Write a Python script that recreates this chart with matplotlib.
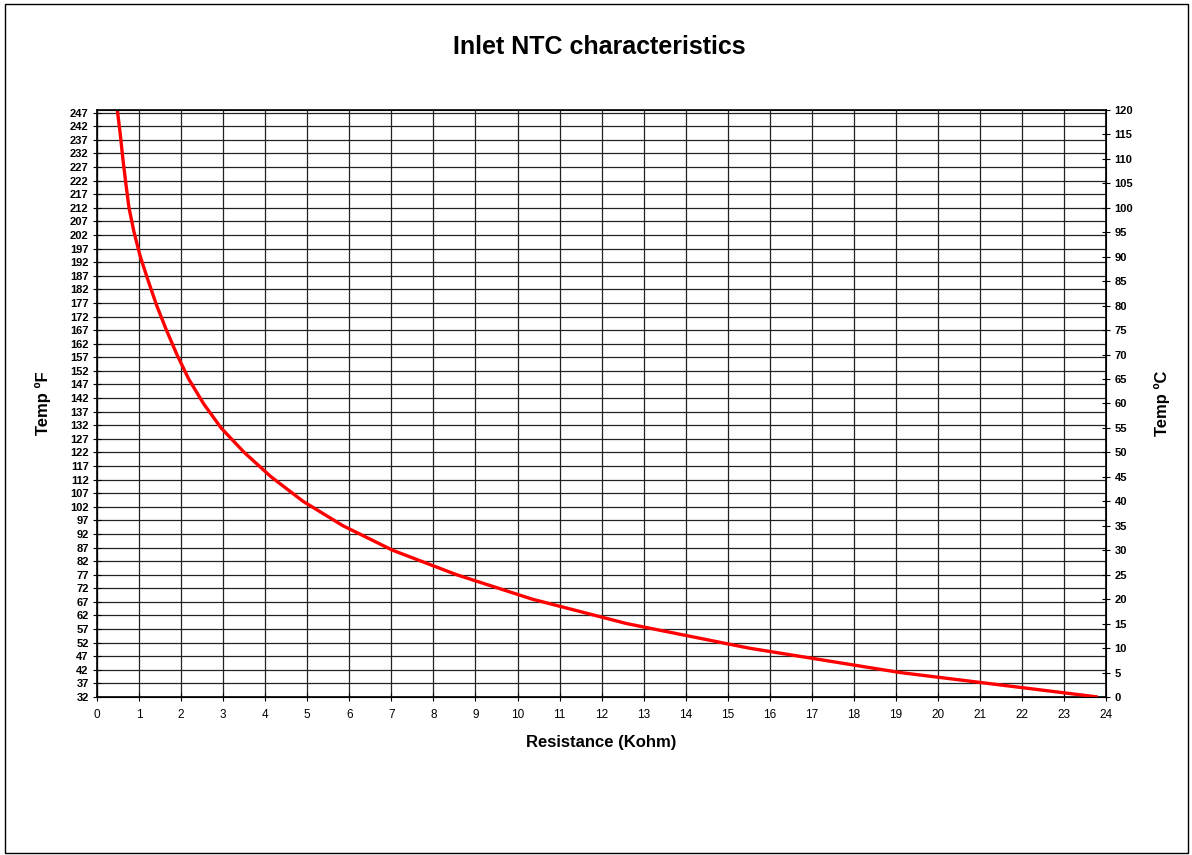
import numpy as np
import matplotlib
matplotlib.use("Agg")
import matplotlib.pyplot as plt
from matplotlib.patches import Rectangle

plt.rcParams['font.family'] = ['Liberation Sans', 'DejaVu Sans']

# NTC curve: temperature (C) vs resistance (kohm)
temp_c = [120, 115, 110, 105, 100, 95, 90, 85, 80, 75, 70, 65, 60,
          55, 50, 45, 40, 35, 30, 25, 20, 15, 10, 5, 0]
res_kohm = [0.483, 0.553, 0.615, 0.685, 0.76, 0.88, 1.03, 1.22, 1.42, 1.65,
            1.90, 2.18, 2.53, 2.95, 3.50, 4.14, 4.90, 5.85, 7.03, 8.55,
            10.35, 12.6, 15.5, 19.1, 23.8]

x_ticks = list(range(0, 25))
f_ticks = list(range(32, 248, 5))
c_ticks = list(range(0, 121, 5))

fig = plt.figure(figsize=(11.92, 8.55), dpi=100)
fig.patches.append(Rectangle((0.004, 0.002), 0.993, 0.993, transform=fig.transFigure,
                             fill=False, edgecolor='black', linewidth=1))

ax = fig.add_axes([0.0814, 0.1848, 0.8466, 0.6866])
ax.set_xlim(0, 24)
ax.set_ylim(32, 248)
ax.set_xticks(x_ticks)
ax.set_yticks(f_ticks)
ax.set_yticklabels([str(t) for t in f_ticks], fontweight='bold', fontsize=8)
ax.tick_params(axis='x', labelsize=8.5, direction='inout', length=6, pad=6)
ax.tick_params(axis='y', direction='inout', length=6, pad=3)
ax.grid(True, color='#222222', linewidth=0.9)
ax.set_axisbelow(True)
for s in ax.spines.values():
    s.set_linewidth(1.2)

ax2 = ax.twinx()
ax2.set_ylim(0, 120)
ax2.set_yticks(c_ticks)
ax2.set_yticklabels([str(t) for t in c_ticks], fontweight='bold', fontsize=8)
ax2.tick_params(axis='y', direction='inout', length=6, pad=3)
ax2.plot(res_kohm, temp_c, color='#ff0000', linewidth=2.4,
         solid_joinstyle='round', solid_capstyle='butt')

ax.set_xlabel('Resistance (Kohm)', fontsize=12, fontweight='bold', labelpad=10)
ax.set_ylabel('Temp ºF', fontsize=12, fontweight='bold', labelpad=14)
ax2.set_ylabel('Temp ºC', fontsize=12, fontweight='bold', labelpad=15)
fig.text(0.503, 0.945, 'Inlet NTC characteristics', ha='center', va='center',
         fontsize=18, fontweight='bold')

fig.savefig('out.png', dpi=100)
